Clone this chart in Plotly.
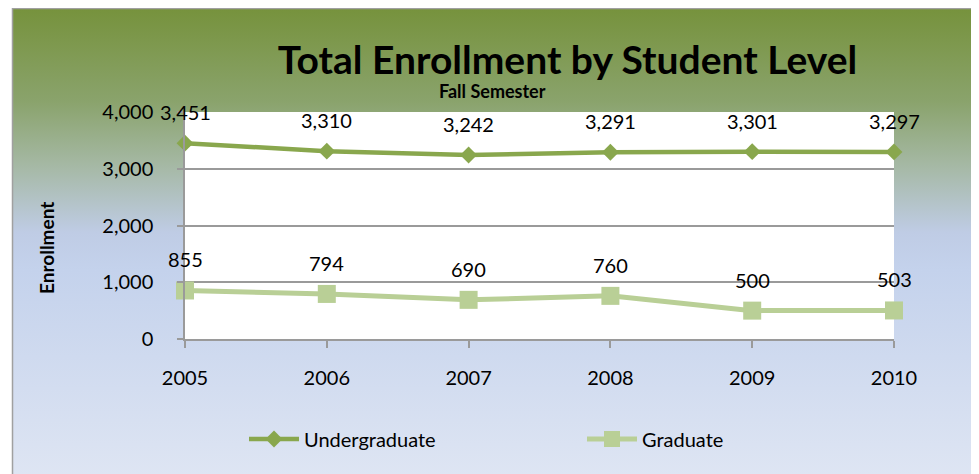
import base64
import plotly.graph_objects as go

years = [2005, 2006, 2007, 2008, 2009, 2010]
undergraduate = [3451, 3310, 3242, 3291, 3301, 3297]
graduate = [855, 794, 690, 760, 500, 503]
y_ticks = [0, 1000, 2000, 3000, 4000]
y_tick_labels = ["0", "1,000", "2,000", "3,000", "4,000"]
year_labels = [str(y) for y in years]

title_text = "Total Enrollment by Student Level"
subtitle_text = "Fall Semester"
y_title = "Enrollment"

UG_COLOR = "#89A74D"
GR_COLOR = "#B9CF96"
FONT = "Lato"

# page body has an 8px margin; positions below are in figure pixels
W, H = 971, 466
L, R, T, B = 177, 85, 104, 135
pw, ph = W - L - R, H - T - B


def px_to_paper_x(px):
    return (px - L) / pw


def px_to_paper_y(py):
    return (H - B - py) / ph


svg = """<svg xmlns='http://www.w3.org/2000/svg' width='100' height='100' preserveAspectRatio='none'>
<defs><linearGradient id='g' x1='0' y1='0' x2='0' y2='1'>
<stop offset='0' stop-color='#76923C'/>
<stop offset='0.2' stop-color='#8AA36C'/>
<stop offset='0.34' stop-color='#A6B9A6'/>
<stop offset='0.48' stop-color='#BFCCE5'/>
<stop offset='0.56' stop-color='#C4D2EC'/>
<stop offset='1' stop-color='#DEE5F3'/>
</linearGradient></defs>
<rect x='0' y='0' width='100' height='100' fill='url(#g)'/>
</svg>"""
svg_uri = "data:image/svg+xml;base64," + base64.b64encode(svg.encode()).decode()

fig = go.Figure()
fig.add_trace(go.Scatter(
    x=years, y=undergraduate, name="Undergraduate", mode="lines+markers",
    line=dict(color=UG_COLOR, width=4.5),
    marker=dict(symbol="diamond", size=13, color=UG_COLOR),
    cliponaxis=False,
))
fig.add_trace(go.Scatter(
    x=years, y=graduate, name="Graduate", mode="lines+markers",
    line=dict(color=GR_COLOR, width=5),
    marker=dict(symbol="square", size=18, color=GR_COLOR),
    cliponaxis=False,
))

annotations = []
for series in (undergraduate, graduate):
    for x, v in zip(years, series):
        annotations.append(dict(
            x=x, y=v, xref="x", yref="y", text=f"{v:,}", showarrow=False,
            yshift=31, font=dict(family=FONT, size=20, color="black"),
        ))

annotations.append(dict(
    x=px_to_paper_x(484), y=px_to_paper_y(83), xref="paper", yref="paper",
    text=f"<b>{subtitle_text}</b>", showarrow=False,
    font=dict(family=FONT, size=18, color="black"),
    xanchor="center", yanchor="middle",
))
annotations.append(dict(
    x=px_to_paper_x(38), y=px_to_paper_y(240), xref="paper", yref="paper",
    text=f"<b>{y_title}</b>", showarrow=False, textangle=-90,
    font=dict(family=FONT, size=19, color="black"),
    xanchor="center", yanchor="middle",
))

fig.update_layout(
    width=W, height=H,
    margin=dict(l=L, r=R, t=T, b=B),
    paper_bgcolor="white",
    plot_bgcolor="white",
    font=dict(family=FONT, size=20, color="black"),
    title=dict(
        text=f"<b>{title_text}</b>", x=559.5 / W, y=1 - 52 / H,
        xanchor="center", yanchor="middle", xref="container", yref="container",
        font=dict(family=FONT, size=39, color="black"),
    ),
    images=[dict(
        source=svg_uri, xref="paper", yref="paper",
        x=px_to_paper_x(5), y=px_to_paper_y(0),
        sizex=px_to_paper_x(W + 2) - px_to_paper_x(5),
        sizey=px_to_paper_y(0) - px_to_paper_y(H + 2),
        sizing="stretch", layer="below", xanchor="left", yanchor="top",
    )],
    shapes=[
        dict(type="rect", xref="paper", yref="paper",
             x0=px_to_paper_x(4.5), x1=px_to_paper_x(W + 5),
             y0=px_to_paper_y(H + 5), y1=px_to_paper_y(0.5),
             line=dict(color="#A0A0A0", width=1.5), fillcolor="rgba(0,0,0,0)",
             layer="below"),
        dict(type="rect", xref="x domain", yref="y domain",
             x0=0, x1=1, y0=0, y1=1, fillcolor="white",
             line=dict(width=0), layer="below"),
    ],
    annotations=annotations,
    showlegend=True,
    legend=dict(
        orientation="h", x=px_to_paper_x(236), y=px_to_paper_y(431),
        xanchor="left", yanchor="middle",
        entrywidth=273, entrywidthmode="pixels", itemwidth=50,
        bgcolor="rgba(0,0,0,0)", font=dict(family=FONT, size=20, color="black"),
    ),
    xaxis=dict(
        range=[years[0], years[-1]], tickvals=years, ticktext=year_labels,
        showgrid=False, zeroline=False, showline=True, linecolor="#9A9A9A",
        linewidth=1.5, ticks="outside", ticklen=7, tickcolor="#9A9A9A",
        tickwidth=1.5, ticklabelstandoff=13,
        tickfont=dict(family=FONT, size=20, color="black"),
    ),
    yaxis=dict(
        range=[0, 4000], tickvals=y_ticks, ticktext=y_tick_labels,
        showgrid=True, gridcolor="#9A9A9A", gridwidth=1.5, zeroline=False,
        showline=True, linecolor="#9A9A9A", linewidth=1.5, ticks="outside",
        ticklen=6, tickcolor="#9A9A9A", tickwidth=1.5, ticklabelstandoff=20,
        tickfont=dict(family=FONT, size=20, color="black"),
    ),
)

fig.write_html("out.html")
